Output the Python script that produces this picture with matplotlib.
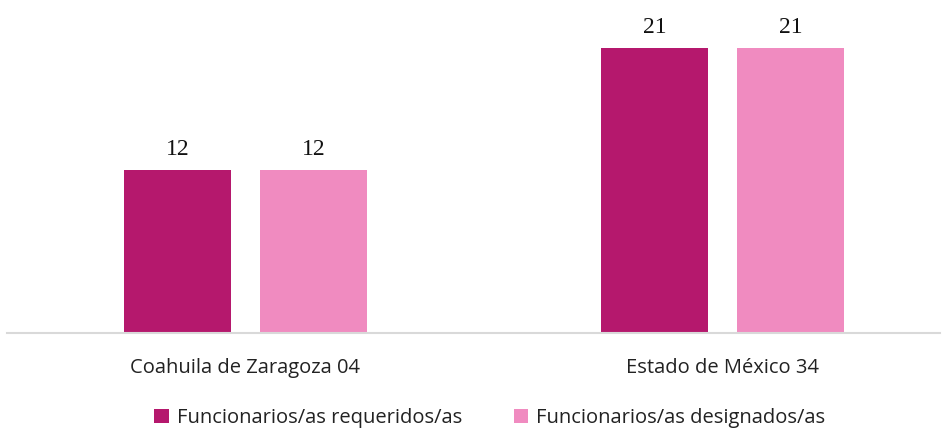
import matplotlib
matplotlib.use("Agg")
import matplotlib.pyplot as plt
import numpy as np

# data
categories = ["Coahuila de Zaragoza 04", "Estado de México 34"]
series_names = ["Funcionarios/as requeridos/as", "Funcionarios/as designados/as"]
requeridos = [12, 21]
designados = [12, 21]
colors = ["#B5186D", "#F08BC0"]

fig = plt.figure(figsize=(9.47, 4.30), dpi=100)
ax = fig.add_axes([7 / 947, 1 - 333 / 430, 933 / 947, 333 / 430])

x = np.arange(len(categories))
width = 0.224
offset = 0.1426

for vals, off, col, name in zip([requeridos, designados], [-offset, offset], colors, series_names):
    bars = ax.bar(x + off, vals, width, color=col, label=name)
    for b, v in zip(bars, vals):
        ax.annotate(str(v), (b.get_x() + b.get_width() / 2, v), xytext=(0, 7),
                    textcoords="offset points", ha="center", va="bottom",
                    fontsize=17, family="Liberation Serif", color="#111111")

ax.set_xlim(-0.5, 1.456)
ax.set_ylim(0, 24.54)
ax.set_yticks([])
ax.set_xticks(x)
ax.set_xticklabels(categories, fontsize=14.5, family="Open Sans", color="#222222")
ax.tick_params(axis="x", length=0, pad=18)
for s in ["top", "right", "left"]:
    ax.spines[s].set_visible(False)
ax.spines["bottom"].set_color("#D9D9D9")
ax.spines["bottom"].set_linewidth(1.5)

leg = fig.legend(loc="center", bbox_to_anchor=(490 / 947, 1 - 418 / 430), ncol=2, frameon=False,
                 prop={"family": "Open Sans", "size": 14.5}, handlelength=0.7,
                 handleheight=0.7, handletextpad=0.4, columnspacing=2.6)
for t in leg.get_texts():
    t.set_color("#222222")

fig.savefig("out.png", dpi=100)
